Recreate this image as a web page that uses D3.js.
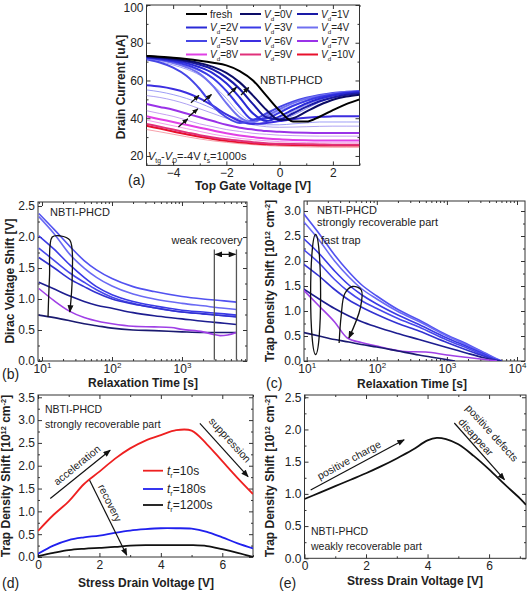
<!DOCTYPE html>
<html lang="en">
<head>
<meta charset="UTF-8">
<title>NBTI-PHCD</title>
<style>
  body { margin: 0; background: #fff; }
</style>
<script src="https://d3js.org/d3.v7.min.js"></script>
</head>
<body>
<script>
// ---------- (a) transfer curves ----------
const gateV = [-5, -4.5, -4, -3.5, -3, -2.5, -2, -1.5, -1, -0.5, 0, 0.5, 1, 1.5, 2, 2.5, 3]
const idFresh = [73, 72.6, 72.1, 71.4, 70.5, 69.4, 68, 65, 60, 52, 44, 38.3, 38.2, 40.8, 44.3, 47.5, 50]
const idVd0 = [72.8, 72.3, 71.6, 70.6, 69.2, 67.2, 64, 59, 52, 44.5, 39, 40, 43.5, 47, 49.8, 51.5, 52.5]
const idVd1 = [72.5, 71.9, 71.1, 70, 68.3, 65.8, 61.5, 55.5, 47.5, 40.5, 39.5, 42.5, 46, 49, 51, 52.4, 53.2]
const idVd2 = [72.3, 71.6, 70.6, 69.2, 67, 63.8, 58.5, 51, 42.5, 38.5, 41, 44.5, 47.8, 50.3, 52, 53.2, 53.8]
const idVd3 = [72, 71.2, 70, 68.2, 65.5, 61.2, 54.5, 46, 39.2, 39.8, 43, 46.5, 49.2, 51.2, 52.6, 53.5, 54]
const idVd4 = [71.8, 70.8, 69.2, 67, 63.5, 57, 48, 40.5, 38, 41.2, 44.8, 48, 50.3, 51.9, 53, 53.7, 54.2]
const idVd5 = [71.2, 69.5, 66.8, 62.5, 55.5, 46.5, 40.5, 37.5, 39, 42.5, 46, 48.8, 50.8, 52.3, 53.4, 54, 54.4]
const idVd6 = [57.5, 56.8, 55.5, 53.5, 50.5, 46.5, 42, 38.5, 37, 37.5, 38.5, 39.5, 40.3, 40.8, 41, 41.1, 41.1]
const idVd7 = [47.5, 46, 44.5, 42.5, 40.5, 38.5, 36.5, 35, 34, 33.2, 32.8, 32.5, 32.3, 32.2, 32.2, 32.2, 32.2]
const idVd8 = [41, 39.5, 38, 36.5, 35, 33.5, 32, 30.8, 30, 29.3, 28.8, 28.5, 28.3, 28.2, 28.2, 28.2, 28.2]
const idVd9 = [37, 35.5, 34, 32.5, 31, 29.8, 28.8, 28, 27.3, 26.8, 26.5, 26.3, 26.2, 26.1, 26, 26, 26]
const idVd10 = [36, 34.5, 33, 31.5, 30.2, 29, 28, 27.2, 26.6, 26.2, 26, 25.8, 25.7, 25.6, 25.6, 25.6, 25.6]
// lighter intermediate sweeps
const idThin1 = [72.5, 71.8, 71, 69.8, 68.3, 66, 62, 56, 47.5, 40.5, 39, 41.5, 45, 48.5, 50.8, 52.2, 53]
const idThin2 = [72, 71.3, 70.2, 68.8, 66.8, 63.8, 58.5, 51, 43, 38.8, 40.2, 43.5, 47, 49.8, 51.7, 52.8, 53.5]
const idThin3 = [71.5, 70.7, 69.3, 67.5, 65, 61, 54, 45.5, 39.5, 39.8, 43, 46.3, 49, 51, 52.5, 53.4, 53.8]
const idThin4 = [71, 70, 68.2, 66, 62.8, 57.5, 50.5, 42.5, 38.3, 40.5, 44, 47, 49.5, 51.4, 52.8, 53.6, 54]
const idThin5 = [55, 54, 52.5, 50.5, 48, 45, 42, 39.5, 37.5, 36.5, 36.5, 37, 37.5, 38, 38, 38, 38]
const idThin6 = [52, 51, 49.5, 47.5, 45, 42.5, 40, 38, 36.5, 35.5, 35.2, 35.3, 35.5, 35.7, 35.8, 35.8, 35.8]
const idThin7 = [44, 42.5, 41, 39, 37, 35.5, 34, 33, 32, 31.5, 31, 30.8, 30.6, 30.5, 30.5, 30.5, 30.5]
const idThin8 = [39, 37.5, 36, 34.5, 33, 31.5, 30.3, 29.3, 28.6, 28, 27.6, 27.3, 27.1, 27, 27, 27, 27]
const idThin9 = [34, 32.8, 31.5, 30.2, 29, 28, 27.2, 26.5, 26, 25.5, 25.2, 25, 24.8, 24.7, 24.6, 24.6, 24.6]
const legendNames = ['fresh', '0V', '1V', '2V', '3V', '4V', '5V', '6V', '7V', '8V', '9V', '10V']

// ---------- (b) Dirac voltage shift vs relaxation time ----------
const timeB = [9, 15, 25, 40, 60, 100, 200, 400, 1000, 2000, 4000, 6000]
const diracB1 = [2.38, 2.12, 1.85, 1.62, 1.47, 1.33, 1.2, 1.12, 1.04, 1.0, 0.97, 0.95]
const diracB2 = [2.33, 2.05, 1.72, 1.5, 1.35, 1.21, 1.08, 1.0, 0.93, 0.89, 0.85, 0.83]
const diracB3 = [2.02, 1.8, 1.55, 1.35, 1.2, 1.07, 0.96, 0.89, 0.82, 0.79, 0.76, 0.74]
const diracB4 = [1.82, 1.62, 1.42, 1.27, 1.15, 1.03, 0.93, 0.86, 0.79, 0.76, 0.73, 0.72]
const diracB5 = [1.67, 1.5, 1.32, 1.2, 1.1, 1.0, 0.92, 0.86, 0.79, 0.76, 0.73, 0.71]
const diracB6 = [1.27, 1.16, 1.05, 0.96, 0.9, 0.85, 0.78, 0.73, 0.68, 0.64, 0.61, 0.59]
const diracB8 = [0.74, 0.7, 0.65, 0.6, 0.57, 0.53, 0.5, 0.49, 0.47, 0.46, 0.46, 0.46]
const timeB7 = [9, 15, 25, 40, 70, 100, 200, 400, 700, 1000, 2000, 2800, 3500, 4500, 6000]
const diracB7 = [1.17, 0.97, 0.8, 0.7, 0.63, 0.6, 0.56, 0.55, 0.54, 0.51, 0.47, 0.43, 0.41, 0.42, 0.46]

// ---------- (c) trap density shift, strongly recoverable part ----------
const timeC = [9, 15, 25, 40, 60, 100, 200, 400, 1000, 2000, 3500, 5000, 6000]
const trapC1 = [2.95, 2.55, 2.12, 1.78, 1.53, 1.3, 1.03, 0.82, 0.52, 0.33, 0.16, 0.05, 0]
const trapC2 = [2.79, 2.42, 2.0, 1.68, 1.45, 1.24, 0.99, 0.79, 0.5, 0.31, 0.15, 0.04, 0]
const trapC3 = [2.45, 2.15, 1.8, 1.52, 1.33, 1.14, 0.92, 0.73, 0.46, 0.28, 0.13, 0.03, 0]
const trapC4 = [2.23, 1.96, 1.63, 1.38, 1.21, 1.05, 0.85, 0.68, 0.42, 0.25, 0.11, 0.02, 0]
const trapC5 = [1.94, 1.7, 1.43, 1.22, 1.08, 0.93, 0.75, 0.6, 0.37, 0.21, 0.09, 0.02, 0]
const trapC6 = [1.44, 1.24, 1.05, 0.9, 0.79, 0.68, 0.55, 0.43, 0.27, 0.15, 0.06, 0.01, 0]
const timeC7 = [9, 15, 25, 38, 60, 100, 150, 250, 500, 1000, 2000, 3500, 5200]
const trapC7 = [1.42, 1.1, 0.78, 0.46, 0.37, 0.3, 0.24, 0.19, 0.18, 0.12, 0.07, 0.03, 0]
const timeC8 = [9, 15, 25, 40, 60, 100, 200, 400, 800, 1300]
const trapC8 = [0.57, 0.5, 0.43, 0.38, 0.33, 0.28, 0.2, 0.12, 0.05, 0]

// ---------- (d) strongly recoverable part vs stress drain voltage ----------
const drainD = [0, 0.5, 1, 1.5, 2, 2.5, 3, 3.5, 4, 4.5, 5, 5.5, 6, 6.5, 7]
const trapD10s = [0.57, 0.92, 1.22, 1.6, 1.87, 2.15, 2.38, 2.55, 2.67, 2.78, 2.77, 2.47, 2.1, 1.73, 1.38]
const trapD180s = [0.07, 0.25, 0.37, 0.43, 0.47, 0.53, 0.58, 0.61, 0.63, 0.63, 0.62, 0.55, 0.43, 0.3, 0.19]
const trapD1200s = [0.02, 0.09, 0.15, 0.18, 0.2, 0.22, 0.25, 0.26, 0.26, 0.26, 0.26, 0.24, 0.17, 0.09, 0.0]
const relaxNames = ['10s', '180s', '1200s']

// ---------- (e) weakly recoverable part ----------
const drainE = [0, 0.5, 1, 1.5, 2, 2.5, 3, 3.5, 4, 4.3, 4.6, 5, 5.5, 6, 6.5, 7, 7.2]
const trapE = [0.92, 1.02, 1.12, 1.22, 1.32, 1.43, 1.55, 1.68, 1.83, 1.87, 1.85, 1.77, 1.59, 1.38, 1.15, 0.93, 0.83]

const FONT = '"Liberation Sans", Arial, sans-serif'
const svg = d3.select('body').append('svg')
    .attr('width', 528).attr('height', 592)
    .attr('font-family', FONT)

const defs = svg.append('defs')
defs.append('marker').attr('id', 'ah').attr('viewBox', '0 0 10 8')
    .attr('refX', 9).attr('refY', 4).attr('markerWidth', 8).attr('markerHeight', 6)
    .attr('markerUnits', 'userSpaceOnUse').attr('orient', 'auto-start-reverse')
    .append('path').attr('d', 'M0,0 L10,4 L0,8 Z').attr('fill', '#111')
defs.append('marker').attr('id', 'ahs').attr('viewBox', '0 0 10 8')
    .attr('refX', 9).attr('refY', 4).attr('markerWidth', 6).attr('markerHeight', 5)
    .attr('markerUnits', 'userSpaceOnUse').attr('orient', 'auto')
    .append('path').attr('d', 'M0,0 L10,4 L0,8 Z').attr('fill', '#111')

let clipId = 0
function panel(x, y, xt, xm, yt, ym, xfmt, yfmt) {
    const g = svg.append('g')
    const [x0, x1] = x.range(), [y0, y1] = y.range()
    const id = 'clip' + (clipId++)
    defs.append('clipPath').attr('id', id).append('rect')
        .attr('x', x0).attr('y', y1).attr('width', x1 - x0).attr('height', y0 - y1)
    const ax = (gen, tr, vals, size, fmt) => {
        const a = g.append('g').attr('transform', tr)
            .call(gen.tickValues(vals).tickSize(size).tickSizeOuter(0).tickPadding(3).tickFormat(fmt || (() => '')))
        a.select('.domain').remove()
        a.attr('font-family', FONT).attr('font-size', 12)
        a.selectAll('line').attr('stroke', '#333')
        a.selectAll('text').attr('fill', '#222')
        return a
    }
    const bx = ax(d3.axisBottom(x), `translate(0,${y0})`, xt, -4, xfmt)
    ax(d3.axisBottom(x), `translate(0,${y0})`, xm, -2)
    ax(d3.axisTop(x), `translate(0,${y1})`, xt, -4)
    ax(d3.axisTop(x), `translate(0,${y1})`, xm, -2)
    const ly = ax(d3.axisLeft(y), `translate(${x0},0)`, yt, -4, yfmt)
    ax(d3.axisLeft(y), `translate(${x0},0)`, ym, -2)
    ax(d3.axisRight(y), `translate(${x1},0)`, yt, -4)
    ax(d3.axisRight(y), `translate(${x1},0)`, ym, -2)
    g.append('rect').attr('x', x0).attr('y', y1).attr('width', x1 - x0).attr('height', y0 - y1)
        .attr('fill', 'none').attr('stroke', '#333').attr('stroke-width', 1)
    const plot = g.append('g').attr('clip-path', `url(#${id})`)
    return { g, plot, bx, ly }
}

function rich(t, parts, fs) {
    let shift = 0
    parts.forEach(p => {
        const target = p.sub ? 3 : p.sup ? -4 : 0
        const ts = t.append('tspan').text(p.t).attr('dy', target - shift)
        shift = target
        if (p.sub || p.sup) ts.attr('font-size', fs * 0.62)
        if (p.i) ts.attr('font-style', 'italic')
    })
    return t
}

function label(x, y, str, o = {}) {
    const t = svg.append('text').attr('x', x).attr('y', y)
        .attr('font-size', o.size || 12).attr('fill', '#222')
        .attr('text-anchor', o.anchor || 'start')
    if (o.bold) t.attr('font-weight', 'bold')
    if (o.rot) t.attr('transform', `rotate(${o.rot},${x},${y})`)
    if (o.parts) rich(t, o.parts, o.size || 12)
    else t.text(str)
    return t
}

function logTicks(domain) {
    const major = [], minor = []
    for (let e = 0; e <= 5; e++) {
        for (let m = 1; m < 10; m++) {
            const v = m * Math.pow(10, e)
            if (v < domain[0] || v > domain[1]) continue
            if (m === 1) major.push(v); else minor.push(v)
        }
    }
    return [major, minor]
}
function supLabels(axisG) {
    axisG.selectAll('.tick text').each(function (d) {
        const t = d3.select(this).text('')
        t.append('tspan').text('10')
        t.append('tspan').attr('dy', -5).attr('font-size', 8).text(Math.round(Math.log10(d)))
    })
}
function range(a, b, s) { const r = []; for (let v = a; v <= b + 1e-9; v += s) r.push(+v.toFixed(3)); return r }
const f1 = d3.format('.1f')

function drawLine(plot, xs, ys, x, y, color, w, op, curve) {
    const pts = xs.map((v, i) => [v, ys[i]])
    plot.append('path').datum(pts)
        .attr('d', d3.line().x(d => x(d[0])).y(d => y(d[1])).curve(curve || d3.curveMonotoneX))
        .attr('fill', 'none').attr('stroke', color).attr('stroke-width', w)
        .attr('stroke-opacity', op || 1).attr('stroke-linejoin', 'round')
}
function arrow(parent, x1, y1, x2, y2, o = {}) {
    const l = parent.append('line').attr('x1', x1).attr('y1', y1).attr('x2', x2).attr('y2', y2)
        .attr('stroke', o.color || '#111').attr('stroke-width', o.w || 1.2)
        .attr('marker-end', `url(#${o.small ? 'ahs' : 'ah'})`)
    if (o.both) l.attr('marker-start', 'url(#ah)')
    return l
}
const smooth = d3.curveCatmullRom.alpha(0.5)

// ================= (a) =================
{
    const x = d3.scaleLinear().domain([-5, 3]).range([146.5, 359.5])
    const y = d3.scaleLinear().domain([15, 100]).range([165.4, 5])
    const { plot, ly } = panel(x, y, [-4, -2, 0, 2], [-5, -3, -1, 1, 3], [20, 40, 60, 80, 100], [30, 50, 70, 90], d3.format('d'), d3.format('d'))
    ly.selectAll('.tick').filter(d => d === 100).select('text').attr('dy', '0.55em')
    const thin = [[idThin1, '#7878f0'], [idThin2, '#8a8af2'], [idThin3, '#7070ee'], [idThin4, '#9090f4'],
        [idThin5, '#8c8cf4'], [idThin6, '#a090f0'], [idThin7, '#c08cf0'], [idThin8, '#f08ce8'], [idThin9, '#f4909c']]
    thin.forEach(([s, c]) => drawLine(plot, gateV, s, x, y, c, 1, 0.85))
    const colA = ['#000000', '#0c0c66', '#1a1aa6', '#2a2ad6', '#3a3ae6', '#7070f0', '#4646e6',
        '#3c2ee0', '#9a32e8', '#e040e6', '#e0307a', '#e8102c']
    const bold = [idFresh, idVd0, idVd1, idVd2, idVd3, idVd4, idVd5, idVd6, idVd7, idVd8, idVd9, idVd10]
    bold.slice().reverse().forEach((s, i) => {
        const k = bold.length - 1 - i
        drawLine(plot, gateV, s, x, y, colA[k], 2)
    })
    // shift arrows
    const arr = [[-1.95, 52.1, -1.62, 56.4], [-1.45, 52.3, -1.16, 56.3], [-3.33, 48.2, -3.03, 52.1],
        [-2.86, 48.9, -2.56, 52.6], [-3.42, 40.8, -3.07, 45], [-3.8, 35.4, -3.45, 39.7]]
    arr.forEach(a => arrow(svg, x(a[0]), y(a[1]), x(a[2]), y(a[3]), { small: true, w: 1.3 }))

    // legend
    const colX = [186, 240, 297], rowY = [14, 27.5, 41, 54.5]
    legendNames.forEach((n, i) => {
        const cx = colX[i % 3], cy = rowY[Math.floor(i / 3)]
        svg.append('line').attr('x1', cx).attr('x2', cx + 21).attr('y1', cy).attr('y2', cy)
            .attr('stroke', colA[i]).attr('stroke-width', 2)
        const t = svg.append('text').attr('x', cx + 24).attr('y', cy + 3.5).attr('font-size', 10).attr('fill', '#222')
        if (n === 'fresh') t.text('fresh')
        else rich(t, [{ t: 'V', i: true }, { t: 'd', sub: true }, { t: '=' + n }], 10)
    })
    label(260, 84, 'NBTI-PHCD', { size: 11.5 })
    label(148, 160, '', { size: 11, parts: [{ t: 'V', i: true }, { t: 'tg', sub: true }, { t: '-' },
        { t: 'V', i: true }, { t: 'D', sub: true, i: true }, { t: '=-4V ' }, { t: 't', i: true }, { t: 's', sub: true }, { t: '=1000s' }] })
    label(121, 87, 'Drain Current [uA]', { bold: true, rot: -90, anchor: 'middle' }).attr('dy', '0.35em')
    label(253, 190, 'Top Gate Voltage [V]', { bold: true, anchor: 'middle' })
    label(128, 185, '(a)', { size: 14 })
}

// ================= (b) =================
{
    const x = d3.scaleLog().domain([8.77, 8490]).range([38, 247])
    const y = d3.scaleLinear().domain([0, 2.565]).range([361, 202])
    const [maj, min] = logTicks(x.domain())
    const { plot, bx } = panel(x, y, maj, min, range(0, 2.5, 0.5), range(0.25, 2.5, 0.5), d => d, f1)
    supLabels(bx)
    const cols = ['#5252f0', '#6a6af4', '#3a3ae6', '#4848ec', '#3232d2', '#1d1d90', '#1a1a70']
    ;[diracB1, diracB2, diracB3, diracB4, diracB5, diracB6, diracB8].forEach((s, i) =>
        drawLine(plot, timeB, s, x, y, cols[i], 1.6))
    drawLine(plot, timeB7, diracB7, x, y, '#a040e6', 1.6)

    // recovery loop arrow
    const loop = [[12.2, 0.71], [12.8, 1.35], [14, 2.0], [18.1, 2.02], [25, 1.95], [27, 1.35], [25, 0.79]]
    svg.append('path').datum(loop)
        .attr('d', d3.line().x(d => x(d[0])).y(d => y(d[1])).curve(d3.curveCatmullRom))
        .attr('fill', 'none').attr('stroke', '#111').attr('stroke-width', 1.3).attr('marker-end', 'url(#ah)')
    // weak recovery window
    ;[2900, 6000].forEach(t => svg.append('line').attr('x1', x(t)).attr('x2', x(t))
        .attr('y1', y(1.8)).attr('y2', y(0.02)).attr('stroke', '#555').attr('stroke-width', 1.3))
    arrow(svg, x(2900) + 1, y(1.72), x(6000) - 1, y(1.72), { both: true, w: 1.3 })
    label(207, y(1.88), 'weak recovery', { size: 11, anchor: 'middle' })
    label(50, 216, 'NBTI-PHCD', { size: 11 })
    label(9.5, 281, 'Dirac Voltage Shift [V]', { bold: true, rot: -90, anchor: 'middle' }).attr('dy', '0.35em')
    label(143, 387, 'Relaxation Time [s]', { bold: true, anchor: 'middle' })
    label(2, 379, '(b)', { size: 14 })
}

// ================= (c) =================
const trapTitle = [{ t: 'Trap Density Shift [10' }, { t: '12', sup: true }, { t: ' cm' }, { t: '-2', sup: true }, { t: ']' }]
{
    const x = d3.scaleLog().domain([9.15, 13000]).range([304, 525])
    const y = d3.scaleLinear().domain([0, 3.2]).range([361, 201])
    const [maj, min] = logTicks(x.domain())
    const { plot, bx } = panel(x, y, maj, min, range(0, 3, 0.5), range(0.25, 3, 0.5), d => d, f1)
    supLabels(bx)
    const cols = ['#5252f0', '#6a6af4', '#3a3ae6', '#4848ec', '#3232d2', '#1d1d90']
    ;[trapC1, trapC2, trapC3, trapC4, trapC5, trapC6].forEach((s, i) =>
        drawLine(plot, timeC, s, x, y, cols[i], 1.6))
    drawLine(plot, timeC7, trapC7, x, y, '#a040e6', 1.6)
    drawLine(plot, timeC8, trapC8, x, y, '#1a1a70', 1.6)

    // fast trap ellipse
    svg.append('ellipse').attr('cx', x(13.4)).attr('cy', y(1.33)).attr('rx', 5)
        .attr('ry', y(0) - y(1.2)).attr('fill', 'none').attr('stroke', '#111').attr('stroke-width', 1.3)
    const loop = [[29, 0.36], [31, 0.9], [35, 1.35], [45, 1.49], [60, 1.42], [58, 1.05], [40, 0.46]]
    svg.append('path').datum(loop)
        .attr('d', d3.line().x(d => x(d[0])).y(d => y(d[1])).curve(d3.curveCatmullRom))
        .attr('fill', 'none').attr('stroke', '#111').attr('stroke-width', 1.3).attr('marker-end', 'url(#ah)')
    label(317, 214, 'NBTI-PHCD', { size: 11 })
    label(317, 226, 'strongly recoverable part', { size: 11 })
    label(321, 244, 'fast trap', { size: 11 })
    label(274, 281, '', { bold: true, rot: -90, anchor: 'middle', parts: trapTitle }).attr('dy', '0.35em')
    label(412, 388, 'Relaxation Time [s]', { bold: true, anchor: 'middle' })
    label(266, 388, '(c)', { size: 14 })
}

// ================= (d) =================
{
    const x = d3.scaleLinear().domain([0, 7]).range([38, 253])
    const y = d3.scaleLinear().domain([0, 3.55]).range([557, 395])
    const { plot } = panel(x, y, [0, 2, 4, 6], [1, 3, 5, 7], range(0, 3.5, 0.5), range(0.25, 3.5, 0.5), d3.format('d'), f1)
    const cols = ['#ee2020', '#2020ee', '#111111']
    ;[trapD10s, trapD180s, trapD1200s].forEach((s, i) => drawLine(plot, drainD, s, x, y, cols[i], 1.8, 1, smooth))
    relaxNames.forEach((n, i) => {
        const ly = [470.7, 489, 505][i]
        svg.append('line').attr('x1', 143).attr('x2', 163).attr('y1', ly).attr('y2', ly)
            .attr('stroke', cols[i]).attr('stroke-width', 1.8)
        rich(svg.append('text').attr('x', 167).attr('y', ly + 4).attr('font-size', 12).attr('fill', '#222'),
            [{ t: 't', i: true }, { t: 'r', sub: true }, { t: '=' + n }], 12)
    })
    arrow(svg, x(0.4), y(1.28), x(2.35), y(2.34))
    arrow(svg, x(1.68), y(1.68), x(2.89), y(0.04))
    arrow(svg, x(5.27), y(2.93), x(6.84), y(1.76))
    label(77, 465, 'acceleration', { size: 10.5, anchor: 'middle', rot: -39 }).attr('dy', '0.35em')
    label(110, 503, 'recovery', { size: 10.5, anchor: 'middle', rot: 63.5 }).attr('dy', '0.35em')
    label(230, 440, 'suppression', { size: 10.5, anchor: 'middle', rot: 47.8 }).attr('dy', '0.35em')
    label(45, 413, 'NBTI-PHCD', { size: 10.5 })
    label(45, 428, 'strongly recoverable part', { size: 10.5 })
    label(10, 476, '', { bold: true, rot: -90, anchor: 'middle', parts: trapTitle }).attr('dy', '0.35em')
    label(146, 587, 'Stress Drain Voltage [V]', { bold: true, anchor: 'middle' })
    label(2, 588, '(d)', { size: 14 })
}

// ================= (e) =================
{
    const x = d3.scaleLinear().domain([0, 7.2]).range([304.5, 526])
    const y = d3.scaleLinear().domain([0, 2.535]).range([558.3, 395])
    const { plot } = panel(x, y, [0, 2, 4, 6], [1, 3, 5, 7], range(0, 2.5, 0.5), range(0.25, 2.5, 0.5), d3.format('d'), f1)
    drawLine(plot, drainE, trapE, x, y, '#111', 1.8, 1, smooth)
    arrow(svg, x(0.2), y(1.06), x(3.24), y(1.84))
    arrow(svg, x(4.87), y(2.1), x(6.5), y(1.22))
    label(349, 460, 'positive charge', { size: 10.5, anchor: 'middle', rot: -28.4 }).attr('dy', '0.35em')
    label(492, 433, 'positive defects', { size: 10.5, anchor: 'middle', rot: 48 }).attr('dy', '0.35em')
    label(476, 437, 'disappear', { size: 10.5, anchor: 'middle', rot: 48 }).attr('dy', '0.35em')
    label(311, 535, 'NBTI-PHCD', { size: 10.5 })
    label(311, 550, 'weakly recoverable part', { size: 10.5 })
    label(274, 476, '', { bold: true, rot: -90, anchor: 'middle', parts: trapTitle }).attr('dy', '0.35em')
    label(415, 585, 'Stress Drain Voltage [V]', { bold: true, anchor: 'middle' })
    label(279, 588, '(e)', { size: 14 })
}
</script>
</body>
</html>
